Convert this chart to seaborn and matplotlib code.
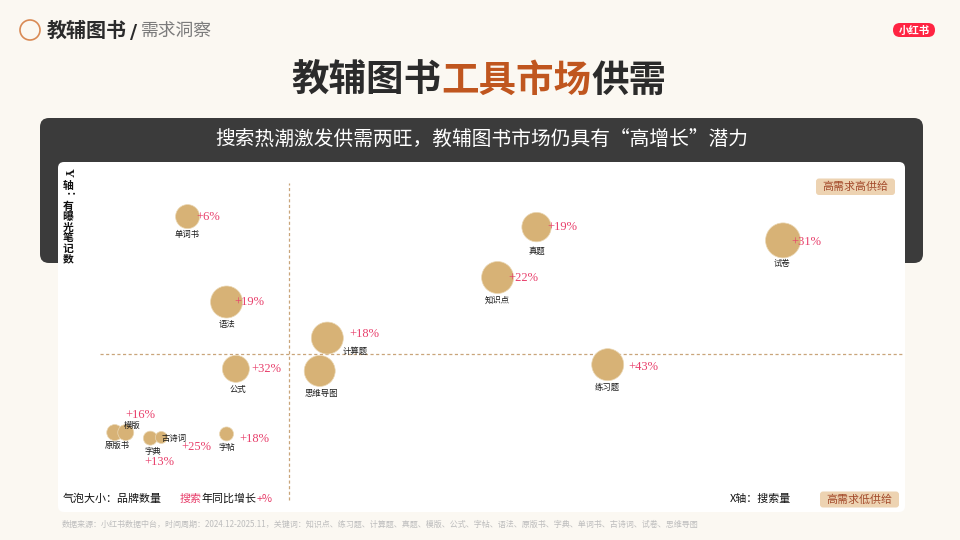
import matplotlib
matplotlib.use("Agg")
import matplotlib.pyplot as plt
import seaborn as sns
import pandas as pd
from matplotlib.patches import FancyBboxPatch, Circle

sns.set_theme(style="white")
plt.rcParams['font.family'] = ['Noto Sans CJK SC', 'DejaVu Sans']

# ---------------- data ----------------
categories = ["单词书", "语法", "公式", "计算题", "思维导图", "真题", "知识点",
              "练习题", "试卷", "原版书", "模版", "字典", "古诗词", "字帖"]
search_volume = [15.3, 19.9, 21.0, 31.8, 30.9, 56.5, 51.9, 64.9, 85.6, 6.7, 8.0, 10.9, 12.2, 19.9]
exposure_notes = [84.4, 60.0, 40.9, 49.7, 40.3, 81.4, 67.0, 42.1, 77.6, 22.7, 22.7, 21.1, 21.3, 22.3]
brand_count = [144, 256, 182, 256, 240, 216, 256, 256, 306, 64, 64, 49, 36, 49]
yoy_growth = ["+6%", "+19%", "+32%", "+18%", None, "+19%", "+22%", "+43%", "+31%",
              None, "+16%", "+13%", "+25%", "+18%"]
search_divider = 27.3
exposure_divider = 45.1

df = pd.DataFrame({"name": categories, "search": search_volume,
                   "exposure": exposure_notes, "brands": brand_count,
                   "growth": yoy_growth})

# label offsets in pixels (dx right, dy down)
name_off = {"单词书": (0, 17.5), "语法": (0, 23), "公式": (2, 21), "计算题": (27.6, 13),
            "思维导图": (1.7, 22.3), "真题": (0, 24), "知识点": (0, 22.7), "练习题": (0, 22.3),
            "试卷": (-1.5, 23.5), "原版书": (2.7, 12.5), "模版": (6.7, -7.5), "字典": (2.7, 13),
            "古诗词": (13, 1.5), "字帖": (0, 13.7)}
pct_off = {"单词书": (9.2, 0), "语法": (7.6, 0), "公式": (15, 0), "计算题": (21.6, -4.4),
           "真题": (10.7, 0.3), "知识点": (10.6, 0.3), "练习题": (20.6, 2.4), "试卷": (8, 1.5),
           "模版": (0, -17.5), "字典": (-6, 24.3), "古诗词": (19.7, 9.2), "字帖": (12.8, 5)}

BG = "#FBF8F2"
DARK = "#2B2B2B"
ACCENT = "#C0561F"
PINK = "#E8406C"
TAN = "#D7B276"

fig = plt.figure(figsize=(9.6, 5.4), dpi=100, facecolor=BG)

# ---------------- background layer (pixel coords) ----------------
bg = fig.add_axes([0, 0, 1, 1])
bg.set_xlim(0, 960)
bg.set_ylim(540, 0)
bg.axis("off")
bg.set_facecolor(BG)

# header
bg.add_patch(Circle((30, 30), 10, fill=False, edgecolor="#D98A55", lw=1.2))
bg.text(47, 30, "教辅图书", fontsize=14.4, fontweight="bold", color=DARK, ha="left", va="center")
bg.text(133.5, 32, "/", fontsize=14, fontweight="bold", color=DARK, ha="center", va="center",
        family=["DejaVu Sans"])
bg.text(141, 31, "需求洞察", fontsize=12.8, color="#7C7C7C", ha="left", va="center")

# logo
bg.add_patch(FancyBboxPatch((893, 23), 42, 14, boxstyle="round,pad=0,rounding_size=7",
                            facecolor="#FF2442", edgecolor="none"))
bg.text(914, 30.5, "小红书", fontsize=7.5, fontweight="bold", color="white", ha="center", va="center")

# title
em = 37.6
start = 479 - 5 * em
bg.text(start + 2 * em, 80, "教辅图书", fontsize=27, fontweight="bold", color=DARK, ha="center", va="center")
bg.text(start + 6 * em, 80, "工具市场", fontsize=27, fontweight="bold", color=ACCENT, ha="center", va="center")
bg.text(start + 9 * em, 80, "供需", fontsize=27, fontweight="bold", color=DARK, ha="center", va="center")

# dark band + white panel
bg.add_patch(FancyBboxPatch((40, 118), 883, 145, boxstyle="round,pad=0,rounding_size=9",
                            facecolor="#3B3B3B", edgecolor="none"))
bg.text(482, 139, "搜索热潮激发供需两旺，教辅图书市场仍具有“高增长”潜力", fontsize=14.2,
        fontweight="medium", color="white", ha="center", va="center")
bg.add_patch(FancyBboxPatch((58, 162), 847, 350, boxstyle="round,pad=0,rounding_size=6",
                            facecolor="white", edgecolor="none"))

# Y-axis label (vertical stacked)
ylab = "Y轴：有曝光笔记数"
ypos = [173, 185.5, 196, 206.5, 217, 227.5, 238, 248.5, 259]
for ch, yy in zip(ylab, ypos):
    rot = -90 if ch in "Y：" else 0
    fam = ["Liberation Serif"] if ch == "Y" else None
    bg.text(68, yy, ch, fontsize=7.8 if ch != "Y" else 9, fontweight="bold", color="#111111",
            ha="center", va="center", rotation=rot, rotation_mode="anchor", family=fam)

# bottom legend texts
fs = 7.9
empx = fs / 0.72
bg.text(63, 499, "气泡大小：品牌数量", fontsize=fs, color="#111111", ha="left", va="center")
bg.text(180, 499, "搜索", fontsize=fs, color=PINK, ha="left", va="center")
bg.text(180 + 2 * empx, 499, "年同比增长", fontsize=fs, color="#111111", ha="left", va="center")
bg.text(180 + 7 * empx, 499, "+%", fontsize=fs, color=PINK, ha="left", va="center")
bg.text(730, 499, "X轴：搜索量", fontsize=fs, color="#111111", ha="left", va="center")

# quadrant tags
for (x0, y0, w, h, txt) in [(816, 178.5, 79, 16.5, "高需求高供给"), (820, 491.5, 79, 16, "高需求低供给")]:
    bg.add_patch(FancyBboxPatch((x0, y0), w, h, boxstyle="round,pad=0,rounding_size=3",
                                facecolor="#EDD3B2", edgecolor="none"))
    bg.text(x0 + w / 2, y0 + h / 2 + 0.5, txt, fontsize=7.9, color="#A34A2B", ha="center", va="center")

# source line
bg.text(62, 524, "数据来源：小红书数据中台，时间周期：2024.12-2025.11，关键词：知识点、练习题、计算题、真题、模版、公式、字帖、语法、原版书、字典、单词书、古诗词、试卷、思维导图",
        fontsize=5.8, color="#BDBDBD", ha="left", va="center")

# ---------------- chart ----------------
ax = fig.add_axes([58 / 960, (540 - 512) / 540, 847 / 960, 350 / 540])
ax.set_xlim(0, 100)
ax.set_ylim(0, 100)
ax.patch.set_alpha(0)
ax.axis("off")

ax.axvline(search_divider, ymin=0.034, ymax=0.94, color="#C9A57A", lw=0.9, ls=(0, (2.5, 2)), zorder=1)
ax.axhline(exposure_divider, xmin=0.05, xmax=0.998, color="#C9A57A", lw=0.9, ls=(0, (2.5, 2)), zorder=1)

sns.scatterplot(data=df, x="search", y="exposure", size="brands", sizes=(0, 635),
                size_norm=(0, max(brand_count)), color=TAN, edgecolor="#EAD7B4",
                linewidth=0.5, alpha=1, legend=False, ax=ax, zorder=2)
ax.set_xlabel("")
ax.set_ylabel("")
ax.set_xlim(0, 100)
ax.set_ylim(0, 100)

k = 0.72
for _, r in df.iterrows():
    dx, dy = name_off[r["name"]]
    ax.annotate(r["name"], (r["search"], r["exposure"]), xytext=(dx * k, -dy * k),
                textcoords="offset points", ha="center", va="center", fontsize=6,
                color="#1A1A1A", zorder=4)
    if r["growth"]:
        dx, dy = pct_off[r["name"]]
        ax.annotate(r["growth"], (r["search"], r["exposure"]), xytext=(dx * k, -dy * k),
                    textcoords="offset points", ha="left", va="center", fontsize=9,
                    color=PINK, family=["Liberation Serif"], zorder=5)

fig.savefig("out.png", dpi=100, facecolor=BG)
